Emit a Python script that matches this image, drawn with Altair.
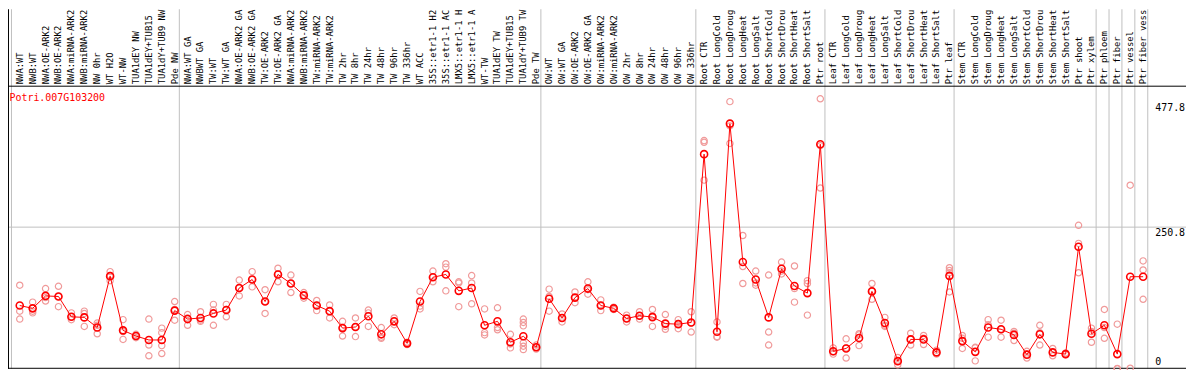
import altair as alt
import pandas as pd

gene = "Potri.007G103200"

categories = [
    "NWA:WT", "NWB:WT", "NWA:OE-ARK2", "NWB:OE-ARK2", "NWA:miRNA-ARK2", "NWB:miRNA-ARK2",
    "NW 0hr", "WT H2O", "WT-NW", "TUA1dEY NW", "TUA1dEY+TUB15", "TUA1dY+TUB9 NW", "Pde NW",
    "NWA:WT GA", "NWBWT GA", "TW:WT", "TW:WT GA", "NWA:OE-ARK2 GA", "NWB:OE-ARK2 GA",
    "TW:OE-ARK2", "TW:OE-ARK2 GA", "NWA:miRNA-ARK2", "NWB:miRNA-ARK2", "TW:miRNA-ARK2",
    "TW:miRNA-ARK2", "TW 2hr", "TW 8hr", "TW 24hr", "TW 48hr", "TW 96hr", "TW 336hr",
    "WT ACC", "35S::etr1-1 H2", "35S::etr1-1 AC", "LMX5::etr1-1 H", "LMX5::etr1-1 A",
    "WT-TW", "TUA1dEY TW", "TUA1dEY+TUB15", "TUA1dY+TUB9 TW", "Pde TW",
    "OW:WT", "OW:WT GA", "OW:OE-ARK2", "OW:OE-ARK2 GA", "OW:miRNA-ARK2", "OW:miRNA-ARK2",
    "OW 2hr", "OW 8hr", "OW 24hr", "OW 48hr", "OW 96hr", "OW 336hr",
    "Root CTR", "Root LongCold", "Root LongDroug", "Root LongHeat", "Root LongSalt",
    "Root ShortCold", "Root ShortDrou", "Root ShortHeat", "Root ShortSalt", "Ptr root",
    "Leaf CTR", "Leaf LongCold", "Leaf LongDroug", "Leaf LongHeat", "Leaf LongSalt",
    "Leaf ShortCold", "Leaf ShortDrou", "Leaf ShortHeat", "Leaf ShortSalt", "Ptr leaf",
    "Stem CTR", "Stem LongCold", "Stem LongDroug", "Stem LongHeat", "Stem LongSalt",
    "Stem ShortCold", "Stem ShortDrou", "Stem ShortHeat", "Stem ShortSalt", "Ptr shoot",
    "Ptr xylem", "Ptr phloem", "Ptr fiber", "Ptr vessel", "Ptr fiber vess",
]

means = [
    112, 107, 129, 128, 92, 91, 73, 164, 68, 58, 51, 51, 103,
    88, 90, 98, 104, 143, 158, 119, 167, 151, 130, 112, 102, 72, 74, 93, 61, 84, 45,
    119, 162, 167, 138, 143, 77, 84, 47, 57.5, 38,
    124, 90, 126, 142, 112, 107, 89, 94, 91.5, 80, 79, 82,
    380, 65.5, 434, 189, 158, 91, 177, 146.5, 134, 397.5,
    31, 36, 54.5, 137, 81, 13.5, 52, 52, 29, 164.5,
    49, 30, 73, 70, 60, 25, 61, 29, 26, 216, 62,
    77, 26, 163, 163,
]

replicates = [
    [148, 102, 88], [118, 102, 99], [142, 126, 120], [146, 128, 110], [99, 92, 87],
    [102, 98, 75], [81, 77, 62], [172, 165, 156], [87, 66, 52], [61, 58, 55],
    [88, 42, 23], [72, 64, 41, 27], [119, 105, 86],
    [96, 90, 77], [101, 86, 84], [114, 104, 77], [114, 105, 92], [157, 143, 129],
    [172, 158, 145], [140, 119, 98], [178, 168, 154], [166, 151, 135], [135, 130, 125],
    [121, 112, 103], [113, 102, 90], [84, 73, 58], [90, 74, 57], [104, 99, 75],
    [73, 56, 54], [90, 84, 78], [47, 45, 43], [137, 111, 106], [173, 162, 154],
    [186, 180, 138], [154, 152, 110], [165, 152, 115], [106, 64, 60], [108, 73, 69],
    [61, 44, 37], [88, 82, 76, 46, 40, 34], [42, 38, 35],
    [141, 128, 102], [97, 90, 83], [136, 126, 117], [154, 140, 132], [122, 112, 103],
    [109, 107, 105], [95, 89, 83], [101, 94, 88], [105, 94, 75], [96, 75, 70],
    [87, 80, 71], [101, 81, 65],
    [404, 401, 334], [83, 57, 56], [473, 430, 399], [236, 181, 151], [173, 152, 148],
    [166, 65, 42], [189, 173, 168], [182, 142, 118], [156, 151, 95], [478, 395, 320],
    [37, 30, 26], [53, 37, 19], [62, 60, 41], [151, 138, 123], [91, 77, 75],
    [20, 14, 7], [63, 52, 42], [59, 54, 43], [33, 29, 26], [179, 174, 170, 136],
    [59, 54, 36], [38, 37, 14], [87, 78, 56], [86, 70, 56], [66, 63, 50],
    [31, 26, 19], [77, 64, 42], [36, 29, 23], [28, 26, 25], [254, 222, 170], [72, 66, 47],
    [105, 73, 54], [79, 0.5, 0], [325, 1], [191, 175, 123],
]

group_sizes = [13, 28, 12, 10, 10, 11, 1, 1, 1, 1]
y_ticks = [477.8, 250.8, 0]
grid_values = [250.8]

# ---- tables built from the arrays ----
cat_df = pd.DataFrame({"idx": list(range(len(categories))), "label": categories, "mean": means})
rep_df = pd.DataFrame(
    [(i, v) for i, reps in enumerate(replicates) for v in reps], columns=["idx", "value"]
)
ends = [-1]
for s in group_sizes:
    ends.append(ends[-1] + s)
bnd_df = pd.DataFrame({"pos": [e + 0.36 for e in ends]})
one = pd.DataFrame({"k": [0]})

W, H = 1144, 285
xs = alt.Scale(domain=[-0.64, len(categories) - 0.64], nice=False, zero=False)
ys = alt.Scale(domain=[0, 501.2], nice=False, zero=False)
MONO = "DejaVu Sans Mono"
GRAY = "#c0c0c0"

bounds = alt.Chart(bnd_df).mark_rule(color=GRAY, strokeWidth=1).encode(
    x=alt.X("pos:Q", scale=xs, axis=None), y=alt.value(-77), y2=alt.value(H)
)
grid = alt.Chart(pd.DataFrame({"v": grid_values})).mark_rule(color=GRAY, strokeWidth=1).encode(
    y=alt.Y("v:Q", scale=ys, axis=None), x=alt.value(-3), x2=alt.value(W + 40)
)
top_line = alt.Chart(one).mark_rule(color="black", strokeWidth=1).encode(
    y=alt.value(0.5), x=alt.value(-3.5), x2=alt.value(W + 40)
)
bottom_line = alt.Chart(one).mark_rule(color="black", strokeWidth=1).encode(
    y=alt.value(H - 0.5), x=alt.value(-3.5), x2=alt.value(W + 40)
)
left_line = alt.Chart(one).mark_rule(color="black", strokeWidth=1).encode(
    x=alt.value(-3), y=alt.value(-77), y2=alt.value(H)
)

header = alt.Chart(cat_df).mark_text(
    angle=270, align="left", baseline="middle", font=MONO, fontSize=8.9, color="black"
).encode(x=alt.X("idx:Q", scale=xs, axis=None), y=alt.value(-1.5), text="label:N")

title = alt.Chart(pd.DataFrame({"t": [gene]})).mark_text(
    align="left", baseline="middle", font=MONO, fontSize=10, color="#ff0000"
).encode(x=alt.value(-2), y=alt.value(12), text="t:N")

reps = alt.Chart(rep_df).mark_point(
    shape="circle", filled=False, color="#f09a9a", size=40, strokeWidth=1.2, opacity=1
).encode(x=alt.X("idx:Q", scale=xs, axis=None), y=alt.Y("value:Q", scale=ys, axis=None))

line = alt.Chart(cat_df).mark_line(color="#ff0000", strokeWidth=1).encode(
    x=alt.X("idx:Q", scale=xs, axis=None), y=alt.Y("mean:Q", scale=ys, axis=None)
)
mean_pts = alt.Chart(cat_df).mark_point(
    shape="circle", filled=False, color="#ff0000", size=50, strokeWidth=1.6, opacity=1
).encode(x=alt.X("idx:Q", scale=xs, axis=None), y=alt.Y("mean:Q", scale=ys, axis=None))


def ylab(vals, baseline, dy):
    return alt.Chart(pd.DataFrame({"v": vals})).mark_text(
        align="left", baseline=baseline, dy=dy, font=MONO, fontSize=10, color="black"
    ).encode(
        x=alt.value(W + 7.5),
        y=alt.Y("v:Q", scale=ys, axis=None),
        text=alt.Text("v:Q", format=".1~f"),
    )


ylab_top = ylab([y_ticks[0]], "top", 4.5)
ylab_mid = ylab([y_ticks[1]], "top", 1)
ylab_zero = ylab([y_ticks[2]], "bottom", -1.5)

chart = alt.layer(
    bounds, grid, top_line, bottom_line, left_line, header, title,
    reps, line, mean_pts, ylab_top, ylab_mid, ylab_zero,
).properties(
    width=W,
    height=H,
    padding={"left": 3.5, "top": 77, "right": 38.5, "bottom": 0},
    autosize=alt.AutoSizeParams(type="none"),
    background="white",
).configure_view(stroke=None)

chart.save("out.html", embed_options={"renderer": "svg", "actions": False})
